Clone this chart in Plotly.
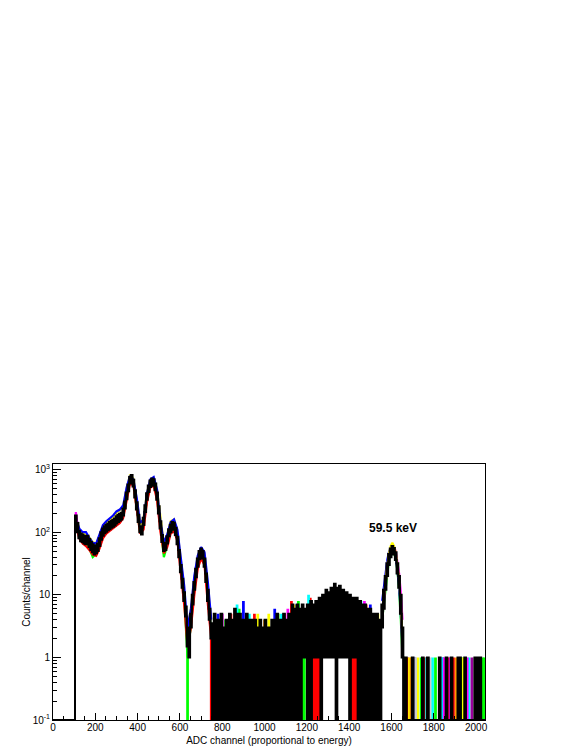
import numpy as np
import plotly.graph_objects as go

# ---------------- data ----------------
BIN_WIDTH = 8          # channels per bin
N_BINS = 256           # 0 .. 2048 channels
X_MAX = 2042
Y_FLOOR = 0.1          # empty bins are drawn at the bottom of the frame (ROOT style)

# black spectrum: upper and lower edge of the thick black trace in each 8-channel bin
black_hi = [
    0, 0, 0, 0, 0, 0, 0, 0, 0, 0, 0, 0, 0, 185, 140, 105,
    95, 92, 88, 86, 88, 78, 70, 64, 60, 62, 66, 80, 100, 115, 125, 132,
    138, 145, 152, 158, 165, 180, 190, 198, 205, 240, 310, 430, 580, 760, 820, 690,
    470, 300, 190, 125, 118, 170, 270, 420, 560, 670, 720, 705, 600, 430, 260, 150,
    90, 64, 68, 86, 112, 132, 145, 142, 118, 85, 52, 30, 18, 11, 6.5, 3,
    2.5, 5, 10, 16, 26, 38, 50, 55, 50, 38, 22, 12, 6, 3.5, 3, 5,
    3, 4, 2, 5, 3, 3, 4, 3, 5, 3, 4, 6, 5, 3, 5, 4,
    3, 4, 5, 3, 4, 3, 4, 4, 3, 3, 4, 3, 3, 4, 3, 3,
    3, 4, 3, 4, 5, 4, 3, 4, 5, 4, 3, 5, 4, 7, 5, 6,
    7, 5, 6, 7, 5, 6, 7, 5, 8, 6, 7, 8, 6, 9, 8, 10,
    9, 12, 10, 11, 13, 12, 15, 13, 11, 14, 10, 12, 9, 11, 8, 10,
    8, 9, 7, 9, 6, 8, 7, 5, 7, 6, 5, 6, 4, 5, 4, 5,
    4, 4, 7, 12, 20, 32, 45, 55, 60, 56, 48, 32, 20, 10, 3, 0,
    1, 0, 0, 0, 1, 0, 0, 0, 0, 0, 1, 0, 0, 1, 0, 0,
    0, 0, 0, 0, 1, 0, 0, 0, 1, 0, 0, 1, 0, 0, 0, 1,
    1, 0, 0, 1, 0, 0, 0, 0, 0, 1, 0, 1, 1, 0, 0, 0,
]
black_lo = [
    0, 0, 0, 0, 0, 0, 0, 0, 0, 0, 0, 0, 0, 120, 100, 80,
    72, 70, 66, 64, 64, 58, 52, 48, 44, 46, 50, 60, 76, 88, 96, 102,
    108, 112, 118, 122, 128, 138, 146, 152, 160, 185, 240, 335, 450, 600, 660, 540,
    360, 230, 145, 100, 92, 130, 210, 330, 440, 530, 570, 555, 470, 330, 200, 115,
    70, 50, 52, 66, 86, 100, 112, 110, 90, 64, 40, 23, 13, 8, 4.5, 1.5,
    1, 3, 7, 12, 19, 28, 37, 42, 38, 28, 16, 8, 4, 2, 0, 0,
    0, 0, 0, 0, 0, 0, 0, 0, 0, 0, 0, 0, 0, 0, 0, 0,
    0, 0, 0, 0, 0, 0, 0, 0, 0, 0, 0, 0, 0, 0, 0, 0,
    0, 0, 0, 0, 0, 0, 0, 0, 0, 0, 0, 0, 0, 0, 0, 0,
    0, 0, 0, 1, 1, 1, 0, 0, 0, 1, 1, 1, 1, 1, 0, 1,
    1, 1, 2, 1, 2, 1, 1, 0, 1, 1, 2, 1, 1, 2, 1, 0,
    1, 1, 1, 1, 0, 0, 0, 0, 0, 0, 0, 0, 0, 0, 0, 0,
    0, 0, 3, 6, 12, 20, 30, 40, 46, 44, 36, 22, 13, 5, 1, 0,
    0, 0, 0, 0, 0, 0, 0, 0, 0, 0, 0, 0, 0, 0, 0, 0,
    0, 0, 0, 0, 0, 0, 0, 0, 0, 0, 0, 0, 0, 0, 0, 0,
    0, 0, 0, 0, 0, 0, 0, 0, 0, 0, 0, 0, 0, 0, 0, 0,
]

# other (coloured) spectra along the low-energy peaks
fringe_ch = [108, 124, 140, 156, 172, 188, 204, 220, 236, 252, 268, 284, 300, 316, 332,
             348, 364, 380, 396, 412, 428, 444, 460, 476, 492, 508, 524, 540, 556, 572,
             588, 604, 620, 636, 652, 668, 684, 700, 716, 732, 748]
blue_fringe = [170, 115, 100, 100, 80, 68, 66, 95, 130, 150, 165, 185, 215, 230, 270,
               520, 800, 700, 350, 140, 160, 420, 700, 760, 480, 150, 68, 92, 145, 160,
               110, 40, 14, 3, 6, 20, 42, 58, 48, 16, 4]
red_fringe = [130, 80, 66, 60, 52, 44, 42, 55, 80, 95, 105, 115, 125, 140, 170,
              330, 600, 560, 250, 95, 110, 300, 520, 560, 320, 100, 46, 58, 95, 105,
              72, 22, 7, 1.5, 3, 10, 26, 38, 30, 7, 2]
green_fringe = [150, 90, 75, 68, 55, 40, 45, 60, 90, 105, 115, 125, 135, 150, 185,
                380, 680, 600, 260, 98, 130, 330, 560, 600, 360, 120, 40, 62, 105, 115,
                78, 28, 9, 1, 4, 12, 30, 44, 34, 9, 2.5]
yellow_fringe = [175, 110, 95, 90, 82, 70, 66, 85, 125, 145, 160, 175, 205, 225, 260,
                 500, 830, 720, 330, 130, 170, 430, 680, 740, 470, 170, 66, 90, 150, 160,
                 100, 38, 12, 3, 6, 18, 40, 56, 46, 14, 4]
magenta_start_ch = [104, 108, 116]
magenta_start_n = [100, 210, 130]

# coloured spectra around the 59.5 keV peak
peak_ch = [1556, 1564, 1572, 1580, 1588, 1596, 1604, 1612, 1620, 1628, 1636, 1644, 1652]
blue_peak = [8, 14, 24, 36, 48, 56, 58, 52, 42, 26, 14, 5, 1.5]
red_peak = [5, 9, 16, 27, 40, 50, 55, 50, 42, 27, 16, 6, 1.5]
green_peak = [4, 7, 14, 24, 36, 46, 50, 46, 38, 24, 12, 4, 1]
yellow_peak = [5, 10, 18, 30, 45, 60, 68, 60, 48, 30, 18, 7, 2]
magenta_peak = [4, 8, 16, 28, 42, 55, 62, 58, 50, 34, 22, 11, 4]

# isolated coloured bins (noise region and high-energy tail)
blue_bins_ch = [780, 900, 1048, 1150, 1500, 1708, 1843]
blue_bins_n = [5, 8, 6, 7, 7, 1, 1]
red_bins_ch = [748, 841, 952, 1093, 1127, 1216, 1232, 1240, 1248, 1256, 1264,
               1412, 1420, 1428, 1436, 1480, 1676, 1759, 1868, 1893]
red_bins_n = [2, 5, 5, 5, 8, 9, 2, 2, 2, 2, 2, 2, 2, 2, 2, 7, 1, 1, 1, 1]
green_bins_ch = [636, 816, 880, 1064, 1160, 1180, 1188, 1520, 1740, 1808, 1932, 2032, 2040]
green_bins_n = [1.5, 4, 6, 5, 8, 2, 2, 5, 1, 1, 1, 1, 1]
yellow_bins_ch = [968, 1020, 1140, 1536, 1685, 1724, 1940]
yellow_bins_n = [5, 5, 7, 5, 1, 1, 1]
cyan_bins_ch = [870, 928, 1080, 1208, 1456, 1766, 1794, 1836, 1966]
cyan_bins_n = [7, 5, 5, 10, 8, 1, 1, 1, 1]
magenta_bins_ch = [800, 1110, 1472, 1850, 1877, 1958]
magenta_bins_n = [5, 6, 8, 1, 1, 1]
orange_bins_ch = [1000, 1692, 1906]
orange_bins_n = [4, 1, 1]
gray_bins_ch = [1714, 1782, 1990]
gray_bins_n = [1, 1, 1]
purple_bins_ch = [1980, 2004]
purple_bins_n = [1, 1]

y_tick_vals = [0.1, 1, 10, 100, 1000]
y_tick_text = ["10<sup>-1</sup>", "1", "10", "10<sup>2</sup>", "10<sup>3</sup>"]

# ---------------- figure ----------------
RED, GREEN, BLUE = "#ff0000", "#00ff00", "#0000ff"
YELLOW, MAGENTA, CYAN = "#ffff00", "#ff00ff", "#00ffff"
ORANGE, GRAY, PURPLE = "#ff9900", "#cccccc", "#990099"

edges = np.arange(N_BINS + 1) * BIN_WIDTH


def step_y(vals):
    v = np.maximum(np.asarray(vals, dtype=float), Y_FLOOR)
    return np.append(v, v[-1])


fig = go.Figure()

bins = [
    (blue_bins_ch, blue_bins_n, BLUE), (red_bins_ch, red_bins_n, RED),
    (green_bins_ch, green_bins_n, GREEN), (yellow_bins_ch, yellow_bins_n, YELLOW),
    (cyan_bins_ch, cyan_bins_n, CYAN), (magenta_bins_ch, magenta_bins_n, MAGENTA),
    (orange_bins_ch, orange_bins_n, ORANGE), (gray_bins_ch, gray_bins_n, GRAY),
    (purple_bins_ch, purple_bins_n, PURPLE),
]
for ch, n, col in bins:
    fig.add_bar(x=ch, y=n, width=13, marker=dict(color=col, line=dict(width=0)),
                hoverinfo="skip")

fringes = [
    (fringe_ch, green_fringe, GREEN), (fringe_ch, red_fringe, RED),
    (fringe_ch, yellow_fringe, YELLOW), (fringe_ch, blue_fringe, BLUE),
    (magenta_start_ch, magenta_start_n, MAGENTA),
    (peak_ch, green_peak, GREEN), (peak_ch, red_peak, RED), (peak_ch, blue_peak, BLUE),
    (peak_ch, magenta_peak, MAGENTA), (peak_ch, yellow_peak, YELLOW),
]
for ch, n, col in fringes:
    fig.add_scatter(x=ch, y=n, mode="lines", line=dict(color=col, width=2.2),
                    hoverinfo="skip")

fig.add_scatter(x=edges, y=step_y(black_lo), mode="lines", line_shape="hv",
                line=dict(color="black", width=2.0), hoverinfo="skip")
fig.add_scatter(x=edges, y=step_y(black_hi), mode="lines", line_shape="hv",
                line=dict(color="black", width=2.0), fill="tonexty",
                fillcolor="black", hoverinfo="skip")

fig.add_annotation(x=1609, y=np.log10(115), text="<b>59.5 keV</b>", showarrow=False,
                   xanchor="center", yanchor="middle",
                   font=dict(size=12, color="black"))

minor_y = [m * 10.0 ** e for e in range(-1, 3) for m in range(2, 10)] + [2000]

fig.update_layout(
    width=581, height=752,
    margin=dict(l=53, r=96, t=464, b=32, autoexpand=False),
    paper_bgcolor="white", plot_bgcolor="white",
    showlegend=False, barmode="overlay",
    font=dict(family="Liberation Sans, Arial, sans-serif", size=10, color="black"),
)
fig.update_xaxes(
    range=[0, X_MAX], automargin=False,
    showline=True, mirror=True, linecolor="black", linewidth=1,
    ticks="inside", ticklen=7, tickcolor="black", tickwidth=1,
    tick0=0, dtick=200, showgrid=False, zeroline=False, ticklabelstandoff=-2,
    minor=dict(dtick=50, tick0=0, ticklen=4, ticks="inside", tickcolor="black", showgrid=False),
    tickfont=dict(size=10),
    title=dict(text="ADC channel (proportional to energy)", font=dict(size=10), standoff=4),
)
fig.update_yaxes(
    type="log", range=[-1, 3.09], automargin=False,
    showline=True, mirror=True, linecolor="black", linewidth=1,
    ticks="inside", ticklen=8, tickcolor="black", tickwidth=1,
    tickvals=y_tick_vals, ticktext=y_tick_text, showgrid=False, zeroline=False,
    minor=dict(tickvals=minor_y, ticklen=4, ticks="inside", tickcolor="black", showgrid=False),
    tickfont=dict(size=10),
    title=dict(text="Counts/channel", font=dict(size=10), standoff=0),
)

fig.write_html("out.html", config={"displayModeBar": False},
               post_script="document.body.style.margin='0';")
